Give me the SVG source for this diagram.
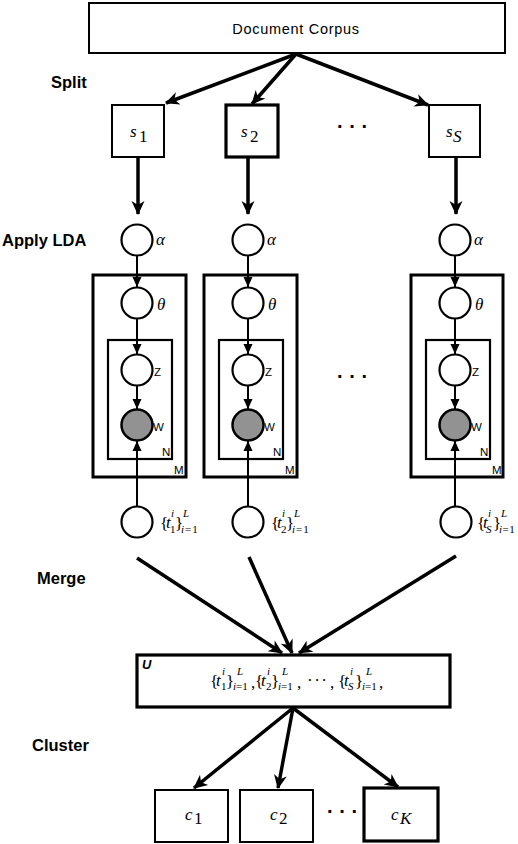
<svg xmlns="http://www.w3.org/2000/svg" width="518" height="844" viewBox="0 0 518 844">
<defs>
<marker id="big" viewBox="-14 -8 16 16" refX="0" refY="0" markerWidth="16" markerHeight="16" markerUnits="userSpaceOnUse" orient="auto">
<path d="M1,0 L-13,-6.5 L-9,0 L-13,6.5 Z" fill="#000"/>
</marker>
<marker id="sm" viewBox="-11 -6 12 12" refX="0" refY="0" markerWidth="12" markerHeight="12" markerUnits="userSpaceOnUse" orient="auto">
<path d="M0,0 L-10,-4.5 L-10,4.5 Z" fill="#000"/>
</marker>
<style>
.box{fill:#fff;stroke:#000;stroke-width:2}
.thick{stroke-width:3.2}
.plate{fill:none;stroke:#000;stroke-width:3}
.iplate{fill:none;stroke:#000;stroke-width:2.2}
.node{fill:#fff;stroke:#000;stroke-width:2.2}
.obs{fill:#929292;stroke:#000;stroke-width:2.5}
.lbl{font-family:"Liberation Sans",Arial,sans-serif;font-weight:bold;font-size:16.5px}
.sans{font-family:"Liberation Sans",Arial,sans-serif}
.small{font-family:"Liberation Sans",Arial,sans-serif;font-size:11.5px}
.m{font-family:"Liberation Serif","Times New Roman",serif;font-size:17px}
.mi{font-family:"Liberation Serif","Times New Roman",serif;font-size:17px;font-style:italic}
.ms{font-family:"Liberation Serif","Times New Roman",serif;font-size:11px}
.msi{font-family:"Liberation Serif","Times New Roman",serif;font-size:11px;font-style:italic}
.dots{font-family:"Liberation Sans",Arial,sans-serif;font-size:20px;font-weight:bold}
.tk{stroke:#000;stroke-width:3.5;fill:none;marker-end:url(#big)}
.tn{stroke:#000;stroke-width:2;fill:none;marker-end:url(#sm)}
</style>
</defs>
<rect width="518" height="844" fill="#fff"/>

<g id="labels">
<text class="lbl" x="51" y="88">Split</text>
<text class="lbl" x="2" y="246">Apply LDA</text>
<text class="lbl" x="37" y="584">Merge</text>
<text class="lbl" x="32" y="751">Cluster</text>
</g>

<g id="connectors">
<line class="tk" x1="296" y1="54" x2="166" y2="103"/>
<line class="tk" x1="296" y1="54" x2="252" y2="104"/>
<line class="tk" x1="296" y1="54" x2="428" y2="105"/>
<line class="tk" x1="138" y1="158" x2="138" y2="214"/>
<line class="tk" x1="248" y1="158" x2="248" y2="214"/>
<line class="tk" x1="456" y1="158" x2="456" y2="214"/>
<line class="tn" x1="137" y1="256" x2="137" y2="287"/>
<line class="tn" x1="137" y1="319" x2="137" y2="354"/>
<line class="tn" x1="137" y1="386" x2="137" y2="409"/>
<line class="tn" x1="137" y1="506" x2="137" y2="441"/>
<line class="tn" x1="248" y1="256" x2="248" y2="287"/>
<line class="tn" x1="248" y1="319" x2="248" y2="354"/>
<line class="tn" x1="248" y1="386" x2="248" y2="409"/>
<line class="tn" x1="248" y1="506" x2="248" y2="441"/>
<line class="tn" x1="455" y1="256" x2="455" y2="287"/>
<line class="tn" x1="455" y1="319" x2="455" y2="354"/>
<line class="tn" x1="455" y1="386" x2="455" y2="409"/>
<line class="tn" x1="455" y1="506" x2="455" y2="441"/>
<line class="tk" x1="137" y1="558" x2="282" y2="653"/>
<line class="tk" x1="249" y1="557" x2="292" y2="653"/>
<line class="tk" x1="456" y1="556" x2="299" y2="653"/>
<line class="tk" x1="293" y1="708" x2="194" y2="788"/>
<line class="tk" x1="293" y1="708" x2="278" y2="788"/>
<line class="tk" x1="293" y1="708" x2="398" y2="787"/>
</g>

<g id="doc">
<rect class="box" x="89" y="3" width="416" height="50"/>
<text class="sans" x="296" y="34" font-size="14.5" letter-spacing="0.7" text-anchor="middle">Document Corpus</text>
</g>

<g id="s1">
<rect class="box" x="112" y="105" width="52" height="52"/>
<text class="mi" x="130" y="137" font-size="20">s</text><text class="m" x="139" y="142" font-size="13">1</text>
</g>
<g id="s2">
<rect class="box thick" x="226" y="105" width="52" height="52"/>
<text class="mi" x="241" y="137" font-size="20">s</text><text class="m" x="250" y="142" font-size="13">2</text>
</g>
<g id="sS">
<rect class="box" x="429" y="105" width="51" height="52"/>
<text class="mi" x="446" y="137" font-size="20">s</text><text class="mi" x="453" y="142" font-size="13">S</text>
</g>
<text class="dots" x="337" y="133">· · ·</text>

<g id="lda1">
<rect class="plate" x="93" y="275" width="93" height="202"/>
<rect class="iplate" x="108" y="340" width="64" height="119"/>
<circle class="node" cx="137" cy="240" r="15.5"/><text class="mi" x="156" y="245" font-size="20">α</text>
<circle class="node" cx="137" cy="303" r="15.5"/><text class="mi" x="157" y="310" font-size="19">θ</text>
<circle class="node" cx="137" cy="370" r="15.5"/><text class="small" x="154" y="376">Z</text>
<circle class="obs" cx="137" cy="425" r="15.5"/><text class="small" x="153" y="431">W</text>
<text class="small" x="162" y="456">N</text>
<text class="small" x="174" y="474">M</text>
</g>
<g id="lda2">
<rect class="plate" x="204" y="275" width="93" height="202"/>
<rect class="iplate" x="219" y="340" width="64" height="119"/>
<circle class="node" cx="248" cy="240" r="15.5"/><text class="mi" x="267" y="245" font-size="20">α</text>
<circle class="node" cx="248" cy="303" r="15.5"/><text class="mi" x="268" y="310" font-size="19">θ</text>
<circle class="node" cx="248" cy="370" r="15.5"/><text class="small" x="265" y="376">Z</text>
<circle class="obs" cx="248" cy="425" r="15.5"/><text class="small" x="264" y="431">W</text>
<text class="small" x="273" y="456">N</text>
<text class="small" x="285" y="474">M</text>
</g>
<text class="dots" x="337" y="383">· · ·</text>
<g id="ldaS">
<rect class="plate" x="411" y="275" width="92" height="202"/>
<rect class="iplate" x="426" y="340" width="64" height="119"/>
<circle class="node" cx="455" cy="240" r="15.5"/><text class="mi" x="474" y="245" font-size="20">α</text>
<circle class="node" cx="455" cy="303" r="15.5"/><text class="mi" x="475" y="310" font-size="19">θ</text>
<circle class="node" cx="455" cy="370" r="15.5"/><text class="small" x="472" y="376">Z</text>
<circle class="obs" cx="455" cy="425" r="15.5"/><text class="small" x="471" y="431">W</text>
<text class="small" x="480" y="456">N</text>
<text class="small" x="492" y="474">M</text>
</g>

<g id="t1">
<circle class="node" cx="137" cy="522" r="15.5"/>
<text class="m" x="160" y="529">{</text><text class="mi" x="166" y="528">t</text><text class="msi" x="171" y="517">i</text><text class="ms" x="170" y="533">1</text><text class="m" x="175" y="529">}</text><text class="msi" x="183" y="517">L</text><text class="ms" x="181" y="533" letter-spacing="1"><tspan font-style="italic">i</tspan>=1</text>
</g>
<g id="t2">
<circle class="node" cx="248" cy="522" r="15.5"/>
<text class="m" x="271" y="529">{</text><text class="mi" x="277" y="528">t</text><text class="msi" x="282" y="517">i</text><text class="ms" x="281" y="533">2</text><text class="m" x="286" y="529">}</text><text class="msi" x="294" y="517">L</text><text class="ms" x="292" y="533" letter-spacing="1"><tspan font-style="italic">i</tspan>=1</text>
</g>
<g id="tS">
<circle class="node" cx="456" cy="522" r="15.5"/>
<text class="m" x="477" y="529">{</text><text class="mi" x="483" y="528">t</text><text class="msi" x="488" y="517">i</text><text class="msi" x="486" y="533">S</text><text class="m" x="493" y="529">}</text><text class="msi" x="501" y="517">L</text><text class="ms" x="499" y="533" letter-spacing="0.5"><tspan font-style="italic">i</tspan>=1</text>
</g>

<g id="U">
<rect class="box thick" x="137" y="655" width="313" height="52"/>
<text class="sans" x="142" y="669" font-size="13" font-weight="bold" font-style="italic">U</text>
<text class="m" x="210" y="687">{</text><text class="mi" x="216" y="686">t</text><text class="msi" x="222" y="675">i</text><text class="ms" x="221" y="690">1</text><text class="m" x="226" y="687">}</text><text class="msi" x="237" y="675">L</text><text class="ms" x="233" y="690"><tspan font-style="italic">i</tspan>=1</text><text class="m" x="251" y="688">,</text>
<text class="m" x="255" y="687">{</text><text class="mi" x="261" y="686">t</text><text class="msi" x="267" y="675">i</text><text class="ms" x="266" y="690">2</text><text class="m" x="271" y="687">}</text><text class="msi" x="282" y="675">L</text><text class="ms" x="278" y="690"><tspan font-style="italic">i</tspan>=1</text><text class="m" x="297" y="688">,</text>
<text class="m" x="307" y="686" font-size="13" letter-spacing="1.5">···</text><text class="m" x="330" y="688">,</text>
<text class="m" x="338" y="687">{</text><text class="mi" x="344" y="686">t</text><text class="msi" x="350" y="675">i</text><text class="msi" x="348" y="690">S</text><text class="m" x="355" y="687">}</text><text class="msi" x="366" y="675">L</text><text class="ms" x="362" y="690"><tspan font-style="italic">i</tspan>=1</text><text class="m" x="379" y="688">,</text>
</g>

<g id="c1">
<rect class="box" x="155" y="790" width="73" height="52"/>
<text class="mi" x="185" y="820" font-size="19">c</text><text class="m" x="194" y="824" font-size="13">1</text>
</g>
<g id="c2">
<rect class="box" x="240" y="790" width="73" height="52"/>
<text class="mi" x="270" y="820" font-size="19">c</text><text class="m" x="279" y="824" font-size="13">2</text>
</g>
<text class="dots" x="327" y="818">· · ·</text>
<g id="cK">
<rect class="box thick" x="364" y="788" width="74" height="53"/>
<text class="mi" x="391" y="820" font-size="19">c</text><text class="mi" x="400" y="824" font-size="13">K</text>
</g>
</svg>
